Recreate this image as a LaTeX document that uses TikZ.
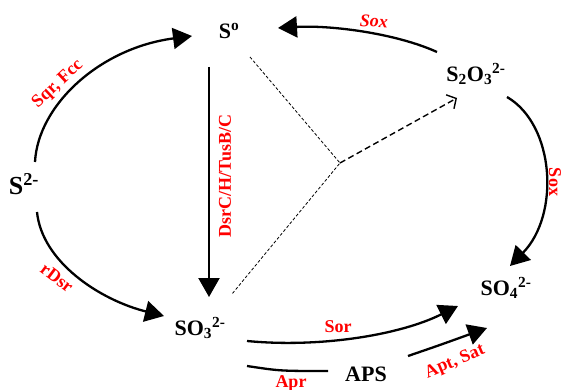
\documentclass[tikz,border=0pt]{standalone}
\usepackage{fontspec}
\setmainfont{Liberation Serif}
\usetikzlibrary{arrows.meta}
\tikzset{
  chem/.style={font=\fontsize{22}{24}\selectfont\bfseries, text=black, inner sep=0pt},
  enz/.style={font=\fontsize{18}{20}\selectfont\bfseries, text=red, inner sep=0pt},
  arr/.style={line width=2.3pt, -{Triangle[length=19pt,width=21pt]}},
  plain/.style={line width=2.3pt},
  thindash/.style={line width=0.8pt, dash pattern=on 3pt off 2pt},
  thickdash/.style={line width=1.4pt, dash pattern=on 6pt off 3.5pt, -{Straight Barb[length=7pt,width=16pt,line width=1.4pt]}}
}
\begin{document}
\begin{tikzpicture}[x=1pt,y=-1pt]
\useasboundingbox (0,0) rectangle (565,390);
% species
\node[chem] (s0) at (229,31) {S\textsuperscript{o}};
\node[chem] (s2o3) at (476,74) {S\textsubscript{2}O\textsubscript{3}\textsuperscript{2-}};
\node[chem, font=\fontsize{26}{28}\selectfont\bfseries] (s2m) at (24,184) {S\textsuperscript{2-}};
\node[chem] (so3) at (200,328) {SO\textsubscript{3}\textsuperscript{2-}};
\node[chem] (so4) at (506,288) {SO\textsubscript{4}\textsuperscript{2-}};
\node[chem] (aps) at (366,374) {APS};
% connector ends
\coordinate (a1s) at (35,162);   \coordinate (a1e) at (192,36);
\coordinate (a2s) at (437,52);   \coordinate (a2e) at (278,28);
\coordinate (a3s) at (209,67);   \coordinate (a3e) at (209,297);
\coordinate (a4s) at (37,212);   \coordinate (a4e) at (164,316);
\coordinate (a5s) at (507,97);   \coordinate (a5e) at (510,266);
\coordinate (a6s) at (247,341);  \coordinate (a6e) at (458,306);
\coordinate (a7s) at (247,366);  \coordinate (a7e) at (328,371);
\coordinate (a8s) at (408,356);  \coordinate (a8e) at (487,328);
\coordinate (j) at (340,163);
\coordinate (d1) at (250,57);
\coordinate (d2) at (232,294);
\coordinate (d3) at (457,98);
% arrows
\draw[arr] (a1s) .. controls (38,105) and (100,48) .. (a1e);
\draw[arr] (a2s) .. controls (395,33) and (330,25) .. (a2e);
\draw[arr] (a3s) -- (a3e);
\draw[arr] (a4s) .. controls (42,262) and (100,300) .. (a4e);
\draw[arr] (a5s) .. controls (555,125) and (560,215) .. (a5e);
\draw[arr] (a6s) .. controls (320,348) and (400,335) .. (a6e);
\draw[plain] (a7s) .. controls (280,371) .. (a7e);
\draw[arr] (a8s) .. controls (440,345) .. (a8e);
% dashed
\draw[thindash] (d1) -- (j) -- (d2);
\draw[thickdash] (j) -- (d3);
% enzyme labels
\node[enz, rotate=43] (l1) at (58,84) {Sqr, Fcc};
\node[enz, rotate=-3, font=\fontsize{18}{20}\selectfont\bfseries\itshape] (l2) at (374,21) {Sox};
\node[enz, rotate=90] (l3) at (225,176) {DsrC/H/TusB/C};
\node[enz, rotate=-37] (l4) at (57,278) {rDsr};
\node[enz, rotate=-90] (l5) at (555,182) {Sox};
\node[enz] (l6) at (338,327) {Sor};
\node[enz] (l7) at (291,383) {Apr};
\node[enz, rotate=23] (l8) at (455,362) {Apt, Sat};
\end{tikzpicture}
\end{document}
